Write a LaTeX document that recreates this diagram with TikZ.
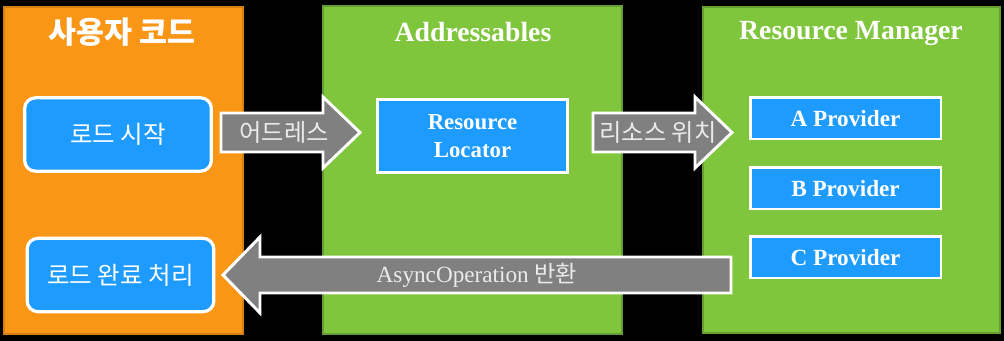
\documentclass[tikz,border=0pt]{standalone}
\usepackage{fontspec}
\setmainfont{Liberation Serif}
\newfontfamily\kr{Noto Sans CJK KR}
\definecolor{codeorange}{RGB}{250,150,22}
\definecolor{codegreen}{RGB}{128,198,60}
\definecolor{boxblue}{RGB}{30,155,255}
\definecolor{arrowgray}{RGB}{128,128,128}

\begin{document}
\begin{tikzpicture}[x=0.75pt, y=-0.75pt,
  title/.style={text=white, font=\bfseries\fontsize{20.8}{24}\selectfont},
  codebox/.style={draw=white, line width=2.4pt, fill=boxblue, rounded corners=8pt, minimum width=140pt, minimum height=55pt, text=white, font=\kr\fontsize{18.4}{21}\selectfont},
  locbox/.style={draw=white, line width=2.2pt, fill=boxblue, minimum width=143pt, minimum height=55pt, text=white, align=center, font=\bfseries\fontsize{17.1}{21}\selectfont},
  provbox/.style={draw=white, line width=2pt, fill=boxblue, minimum width=143pt, minimum height=31pt, text=white, font=\bfseries\fontsize{17.4}{20}\selectfont},
  blockarrow/.style={draw=white, line width=2.2pt, fill=arrowgray},
  arrowtext/.style={text=white!92!black, font=\kr\fontsize{18.2}{21}\selectfont}]
	\fill[black] (0,0) rectangle (1004,341);
	% panels
	\draw[fill=codeorange, draw=codeorange!85!black, line width=1.2pt] (4,7) rectangle (243,334);
	\draw[fill=codegreen, draw=codegreen!80!black, line width=1.2pt] (323,6) rectangle (622,334);
	\draw[fill=codegreen, draw=codegreen!80!black, line width=1.2pt] (703,7) rectangle (1000,333);
	\node[title, font=\kr\bfseries\fontsize{22.8}{26}\selectfont] (usertitle) at (122,32) {사용자 코드};
	\node[title] (addrtitle) at (473,32) {Addressables};
	\node[title] (rmtitle) at (851,33) {Resource Manager};
	% boxes
	\node[codebox] (start) at (118,134.5) {로드 시작};
	\node[codebox] (done) at (120.5,275) {로드 완료 처리};
	\node[locbox] (locator) at (472.5,136) {Resource\\Locator};
	\node[provbox] (provA) at (845.5,118.5) {A Provider};
	\node[provbox] (provB) at (845.5,188.5) {B Provider};
	\node[provbox] (provC) at (845.5,257.5) {C Provider};
	% block arrows
	\draw[blockarrow] (221,113) -- (323,113) -- (323,97) -- (360,132.5) -- (323,168) -- (323,152) -- (221,152) -- cycle;
	\node[arrowtext] (address) at (284,132.5) {어드레스};
	\draw[blockarrow] (593,113) -- (695,113) -- (695,97) -- (732,132.5) -- (695,168) -- (695,152) -- (593,152) -- cycle;
	\node[arrowtext] (location) at (658,132.5) {리소스 위치};
	\draw[blockarrow] (731,257) -- (260,257) -- (260,237) -- (223,275) -- (260,313) -- (260,293) -- (731,293) -- cycle;
	\node[text=white!92!black, font=\fontsize{17.4}{20}\selectfont] (asyncop) at (477,275) {AsyncOperation {\kr 반환}};
\end{tikzpicture}
\end{document}
